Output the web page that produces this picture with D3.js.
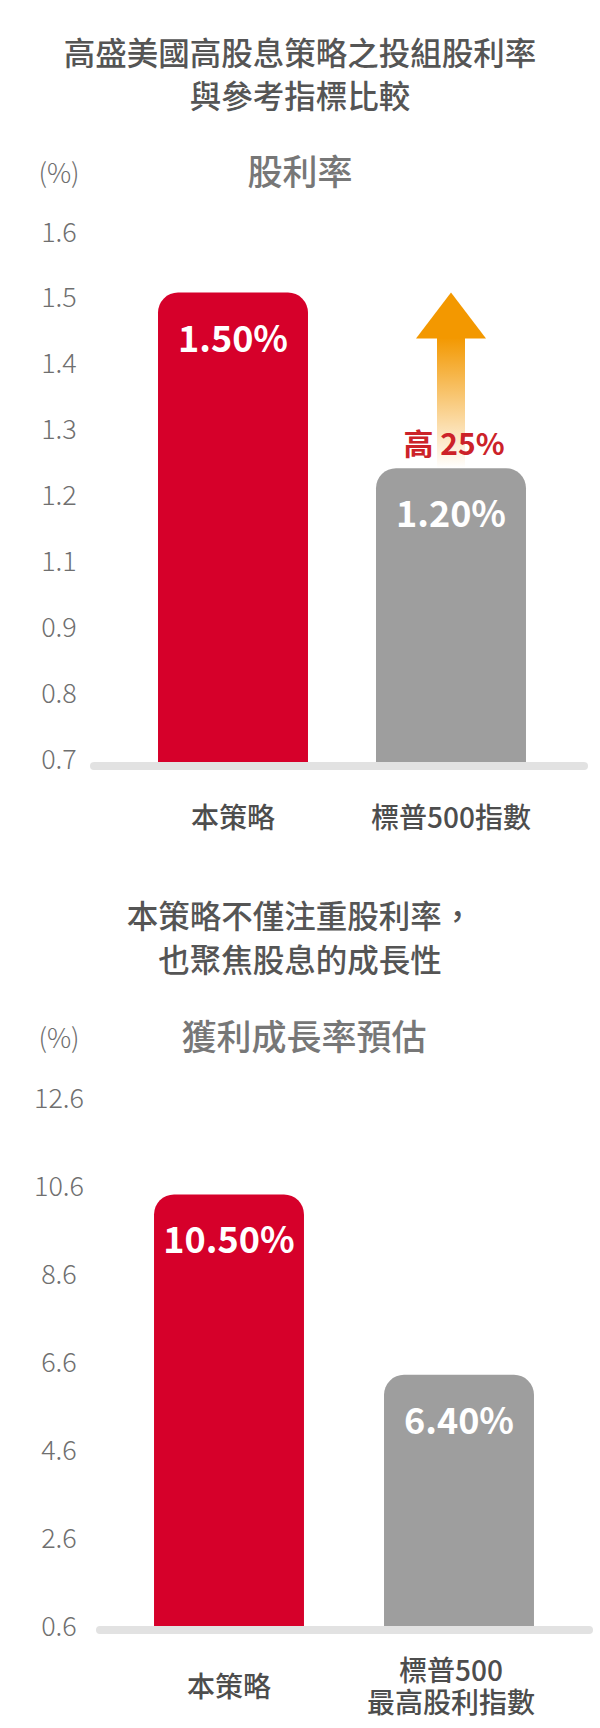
<!DOCTYPE html>
<html>
<head>
    <meta charset="utf-8">
    <title>股利率與獲利成長率</title>
    <script src="https://d3js.org/d3.v7.min.js"></script>
    <style>
        body {
            margin: 0;
            background: #fff;
        }

        text {
            font-family: "Noto Sans CJK TC", "Noto Sans", sans-serif;
        }

        .title {
            font-size: 31.5px;
            font-weight: 500;
            fill: #555;
        }

        .subtitle {
            font-size: 35px;
            font-weight: 500;
            fill: #777;
        }

        .tick-label {
            font-size: 27px;
            font-weight: 300;
            fill: #6f6f6f;
        }

        .cat-label {
            font-size: 28px;
            font-weight: 500;
            fill: #4d4d4d;
        }

        .value-label {
            font-size: 36px;
            font-weight: 700;
            fill: #fff;
        }
    </style>
</head>

<body>
    <div id="chart"></div>

    <script>
        // ---- data ----
        const yieldCategories = [["本策略"], ["標普500指數"]];
        const yieldValues = [1.5, 1.2];
        const yieldTicks = ["0.7", "0.8", "0.9", "1.1", "1.2", "1.3", "1.4", "1.5", "1.6"];

        const growthCategories = [["本策略"], ["標普500", "最高股利指數"]];
        const growthValues = [10.5, 6.4];
        const growthTicks = [0.6, 2.6, 4.6, 6.6, 8.6, 10.6, 12.6];

        const barColors = ["#D6002A", "#9E9E9E"];

        const svg = d3.select("#chart")
            .append("svg")
            .attr("width", 600)
            .attr("height", 1728);

        // arrow gradient
        const grad = svg.append("defs").append("linearGradient")
            .attr("id", "arrowGrad")
            .attr("x1", 0).attr("y1", 0).attr("x2", 0).attr("y2", 1);
        grad.append("stop").attr("offset", "0%").attr("stop-color", "#F39800").attr("stop-opacity", 1);
        grad.append("stop").attr("offset", "100%").attr("stop-color", "#F39800").attr("stop-opacity", 0);

        // bar with rounded top corners
        function topRounded(x, y, w, h, r) {
            return `M${x},${y + h} V${y + r} A${r},${r} 0 0 1 ${x + r},${y} H${x + w - r} A${r},${r} 0 0 1 ${x + w},${y + r} V${y + h} Z`;
        }

        function titleLines(lines, y0, gap) {
            svg.append("g").selectAll("text")
                .data(lines)
                .enter().append("text")
                .attr("class", "title")
                .attr("x", 300)
                .attr("y", (d, i) => y0 + i * gap)
                .attr("text-anchor", "middle")
                .attr("dominant-baseline", "central")
                .text(d => d);
        }

        function drawChart(opt) {
            const g = svg.append("g");

            // unit + subtitle
            g.append("text")
                .attr("class", "tick-label")
                .attr("x", 59).attr("y", opt.unitY)
                .attr("text-anchor", "middle")
                .attr("dominant-baseline", "central")
                .text("(%)");

            g.append("text")
                .attr("class", "subtitle")
                .attr("x", opt.subX).attr("y", opt.subY)
                .attr("text-anchor", "middle")
                .attr("dominant-baseline", "central")
                .text(opt.subtitle);

            // tick labels
            g.selectAll(".tick-label.t")
                .data(opt.ticks)
                .enter().append("text")
                .attr("class", "tick-label t")
                .attr("x", 59)
                .attr("y", d => opt.tickY(d))
                .attr("text-anchor", "middle")
                .attr("dominant-baseline", "central")
                .text(d => d);

            const x = d3.scaleBand()
                .domain(d3.range(opt.values.length))
                .range(opt.xRange)
                .paddingInner(opt.pad)
                .paddingOuter(opt.pad / 2);

            const base = opt.y(opt.y.domain()[0]);

            // bars
            g.selectAll("path.bar")
                .data(opt.values)
                .enter().append("path")
                .attr("class", "bar")
                .attr("fill", (d, i) => barColors[i])
                .attr("d", (d, i) => topRounded(x(i), opt.y(d), x.bandwidth(), base + 2 - opt.y(d), 20));

            // axis line
            g.append("line")
                .attr("x1", opt.axis[0]).attr("x2", opt.axis[1])
                .attr("y1", opt.axisY).attr("y2", opt.axisY)
                .attr("stroke", "#E2E2E2")
                .attr("stroke-width", 8)
                .attr("stroke-linecap", "round");

            // value labels
            g.selectAll(".value-label")
                .data(opt.values)
                .enter().append("text")
                .attr("class", "value-label")
                .attr("x", (d, i) => x(i) + x.bandwidth() / 2)
                .attr("y", d => opt.y(d) + 43)
                .attr("text-anchor", "middle")
                .attr("dominant-baseline", "central")
                .text(d => d3.format(".2f")(d) + "%");

            // category labels (one text per line)
            opt.categories.forEach((lines, i) => {
                const cx = x(i) + x.bandwidth() / 2 + (lines.length > 1 ? opt.multiShift : 0);
                g.selectAll(null)
                    .data(lines)
                    .enter().append("text")
                    .attr("class", "cat-label")
                    .attr("x", cx)
                    .attr("y", (d, k) => opt.catY - (lines.length - 1) * 16 + k * 32)
                    .attr("text-anchor", "middle")
                    .attr("dominant-baseline", "central")
                    .text(d => d);
            });

            return { x: x, g: g };
        }

        // ---- chart 1: dividend yield ----
        titleLines(["高盛美國高股息策略之投組股利率", "與參考指標比較"], 51, 43);

        const y1 = d3.scaleLinear().domain([0.7, 1.6]).range([761, 234]);
        const tickPos1 = d3.scalePoint().domain(yieldTicks).range([757, 230]);

        const c1 = drawChart({
            subtitle: "股利率", subX: 300, subY: 169, unitY: 171,
            ticks: yieldTicks, tickY: d => tickPos1(d),
            values: yieldValues, categories: yieldCategories,
            y: y1, xRange: [124, 560], pad: 0.312,
            axis: [94, 584], axisY: 766, catY: 816, multiShift: 0
        });

        // arrow from benchmark bar up to strategy level
        const ax = c1.x(1) + c1.x.bandwidth() / 2;
        const tipY = y1(yieldValues[0]);
        const headH = 46;
        c1.g.insert("rect", "path.bar")
            .attr("x", ax - 14)
            .attr("y", tipY + headH - 1)
            .attr("width", 28)
            .attr("height", y1(yieldValues[1]) - tipY - headH + 1)
            .attr("fill", "url(#arrowGrad)");
        c1.g.append("path")
            .attr("d", `M${ax},${tipY} L${ax + 35},${tipY + headH} L${ax - 35},${tipY + headH} Z`)
            .attr("fill", "#F39800");
        c1.g.append("text")
            .attr("x", ax + 3)
            .attr("y", tipY + 149)
            .attr("text-anchor", "middle")
            .attr("dominant-baseline", "central")
            .style("font-size", "30px")
            .style("font-weight", 700)
            .style("fill", "#CC2229")
            .text("高 " + d3.format(".0%")(yieldValues[0] / yieldValues[1] - 1));

        // ---- chart 2: earnings growth ----
        titleLines(["本策略不僅注重股利率，", "也聚焦股息的成長性"], 914, 44);

        const y2 = d3.scaleLinear().domain([0.6, 12.6]).range([1630, 1102]);

        drawChart({
            subtitle: "獲利成長率預估", subX: 304, subY: 1034, unitY: 1036,
            ticks: growthTicks, tickY: d => y2(d) - 6,
            values: growthValues, categories: growthCategories,
            y: y2, xRange: [114, 574], pad: 0.348,
            axis: [100, 589], axisY: 1630, catY: 1685, multiShift: -8
        });
    </script>
</body>
</html>
